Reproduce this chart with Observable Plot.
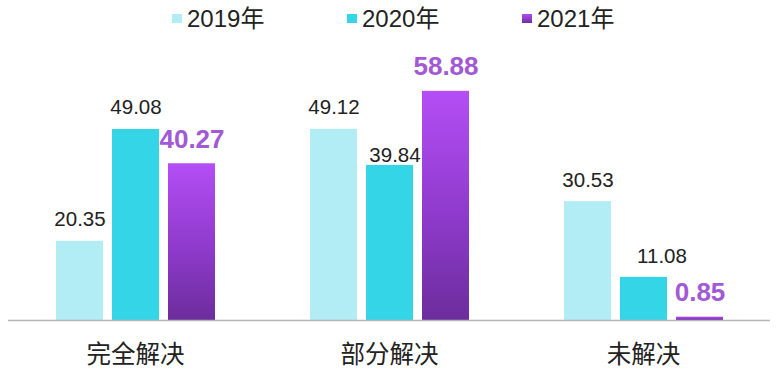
<!DOCTYPE html>
<html>
<head>
<meta charset="utf-8">
<script src="https://cdn.jsdelivr.net/npm/d3@7"></script>
<script src="https://cdn.jsdelivr.net/npm/@observablehq/plot@0.6"></script>
<style>
  html, body { margin: 0; padding: 0; background: #fff; }
  #wrap { width: 780px; height: 374px; position: relative; overflow: hidden; }
  #legend { position: relative; width: 780px; height: 40px; }
  .item { position: absolute; top: 8px; height: 24px; line-height: 22px; white-space: nowrap;
          font-family: "Liberation Sans", "Noto Sans CJK SC", sans-serif; font-size: 24px; color: #222; }
  .sw { display: inline-block; width: 10px; height: 9px; margin-right: 5px; vertical-align: 4px; }
  svg { display: block; }
</style>
</head>
<body>
<div id="wrap">
  <div id="legend"></div>
  <div id="chart"></div>
</div>
<script>
const categories = ["完全解决", "部分解决", "未解决"];
const years = ["2019年", "2020年", "2021年"];
const values2019 = [20.35, 49.12, 30.53];
const values2020 = [49.08, 39.84, 11.08];
const values2021 = [40.27, 58.88, 0.85];

const colors = ["#b2ecf4", "#35d5e8", "url(#grad2021)"];
const legendColors = ["#b2ecf4", "#35d5e8", "linear-gradient(#b24cf2, #6e2ea0)"];

const series = [values2019, values2020, values2021];
const data = categories.flatMap((c, i) => years.map((y, j) => ({category: c, year: y, value: series[j][i]})));

// legend
const legend = document.getElementById("legend");
years.forEach((y, j) => {
  const el = document.createElement("div");
  el.className = "item";
  el.style.left = (172 + j * 175) + "px";
  const sw = document.createElement("span");
  sw.className = "sw";
  sw.style.background = legendColors[j];
  el.appendChild(sw);
  el.appendChild(document.createTextNode(y));
  legend.appendChild(el);
});

const numFont = "Liberation Sans, Arial, Noto Sans CJK SC, sans-serif";
const isBold = d => d.year === "2021年";
const special1 = d => d.category === "部分解决" && d.year === "2020年";
const special2 = d => d.category === "未解决" && d.year === "2020年";

const plot = Plot.plot({
  width: 780,
  height: 334,
  marginLeft: 8,
  marginRight: 10,
  marginTop: 27,
  marginBottom: 54,
  fx: {domain: categories, padding: 0, label: null},
  x: {domain: years, paddingInner: 0.168, paddingOuter: 0.832, axis: null},
  y: {domain: [0, 65], axis: null},
  color: {domain: years, range: colors},
  style: {fontFamily: numFont, background: "#fff", overflow: "visible"},
  marks: [
    Plot.barY(data, {fx: "category", x: "year", y: "value", fill: "year"}),
    Plot.ruleY([0], {stroke: "#b5b5b5", strokeWidth: 1.5}),
    Plot.text(data, {filter: d => !isBold(d) && !special1(d) && !special2(d), fx: "category", x: "year", y: "value",
      text: d => d.value.toFixed(2), lineAnchor: "bottom", dy: -15, fontSize: 20.5, fill: "#222"}),
    Plot.text(data, {filter: special1, fx: "category", x: "year", y: "value",
      text: d => d.value.toFixed(2), lineAnchor: "bottom", dy: -3, dx: 5, fontSize: 20.5, fill: "#222"}),
    Plot.text(data, {filter: special2, fx: "category", x: "year", y: "value",
      text: d => d.value.toFixed(2), lineAnchor: "bottom", dy: -14, dx: 18, fontSize: 20.5, fill: "#222"}),
    Plot.text(data, {filter: isBold, fx: "category", x: "year", y: "value",
      text: d => d.value.toFixed(2), lineAnchor: "bottom", dy: -16, fontSize: 26, fontWeight: "bold", fill: "#a259d6"}),
    Plot.axisFx({anchor: "bottom", tickSize: 0, tickPadding: 25, fontSize: 24.5, label: null,
      fill: "#222", fontFamily: "Noto Sans CJK SC, sans-serif"})
  ]
});

const svg = d3.select(plot);
const defs = svg.insert("defs", ":first-child");
const g = defs.append("linearGradient").attr("id", "grad2021").attr("x1", 0).attr("y1", 0).attr("x2", 0).attr("y2", 1);
g.append("stop").attr("offset", "0%").attr("stop-color", "#b44ef5");
g.append("stop").attr("offset", "55%").attr("stop-color", "#8e3acb");
g.append("stop").attr("offset", "100%").attr("stop-color", "#6c2d9c");

document.getElementById("chart").appendChild(plot);
</script>
</body>
</html>
